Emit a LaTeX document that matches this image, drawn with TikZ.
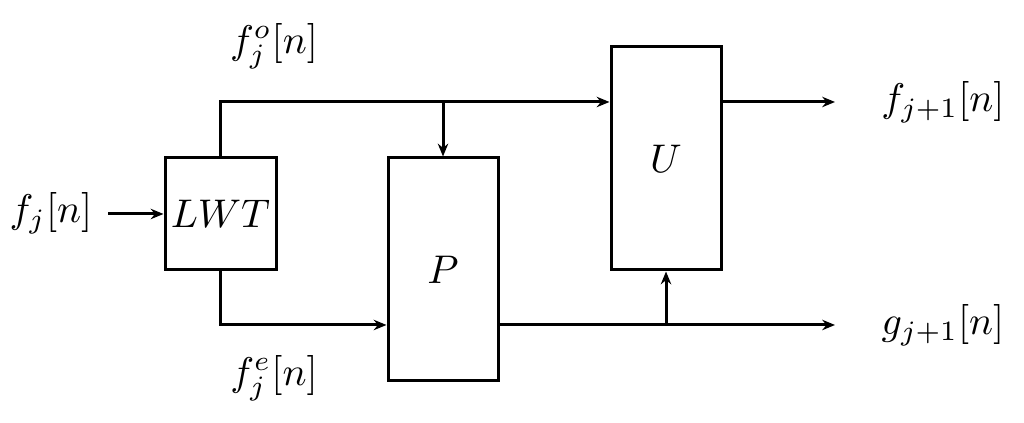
\documentclass[tikz,border=0pt]{standalone}
\usetikzlibrary{arrows.meta}
\begin{document}
\begin{tikzpicture}[x=0.25pt,y=-0.25pt, line width=0.75pt,
  >={Stealth[length=3.2pt,width=2.6pt]},
  blk/.style={draw, rectangle, inner sep=0pt, line width=0.75pt},
  lbl/.style={inner sep=0pt}]
\useasboundingbox (0,0) rectangle (1024,423);
\node[blk, minimum width=27.75pt, minimum height=28pt] (lwt) at (220.5,214) {$LWT$};
\node[blk, minimum width=27.5pt, minimum height=55.75pt] (p) at (443,269.5) {$P$};
\node[blk, minimum width=27.5pt, minimum height=55.75pt] (u) at (666,158.5) {$U$};
\node[lbl] (in) at (51,213) {$f_j[n]$};
\node[lbl] (fo) at (274,46) {$f_j^o[n]$};
\node[lbl] (fe) at (274,378) {$f_j^e[n]$};
\node[lbl] (fout) at (943,102) {$f_{j+1}[n]$};
\node[lbl] (gout) at (943,325) {$g_{j+1}[n]$};
\coordinate (inS) at (108,214);
\coordinate (fend) at (835,102);
\coordinate (gend) at (835,325);
\coordinate (ty) at (0,102);
\coordinate (by) at (0,325);
\draw[->] (inS) -- (lwt.west);
\draw[->] (lwt.north) |- (u.west |- ty);
\draw[->] (p.north |- ty) -- (p.north);
\draw[->] (lwt.south) |- (p.west |- by);
\draw[->] (p.east |- by) -- (gend);
\draw[->] (u.south |- by) -- (u.south);
\draw[->] (u.east |- ty) -- (fend);
\end{tikzpicture}
\end{document}
